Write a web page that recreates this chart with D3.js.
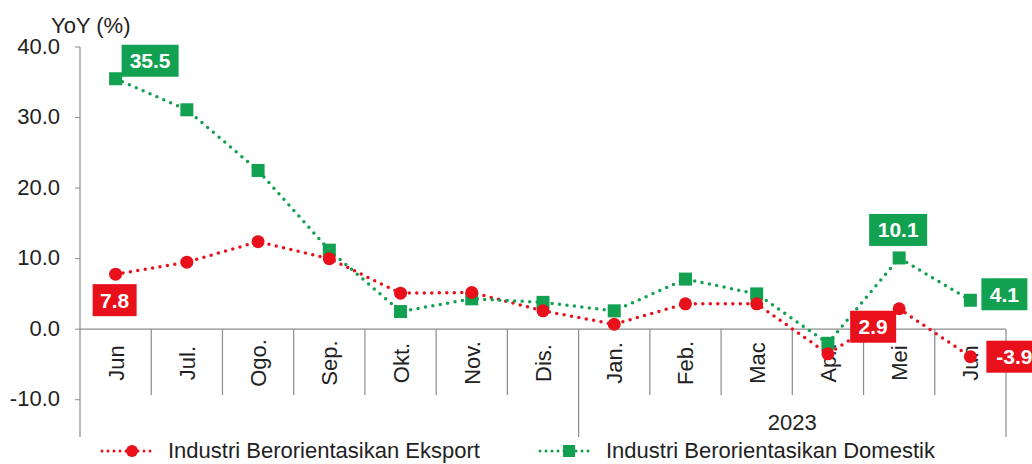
<!DOCTYPE html>
<html>
<head>
<meta charset="utf-8">
<script src="https://cdn.jsdelivr.net/npm/d3@7"></script>
<style>
  body { margin: 0; background: #fff; }
  text { font-family: "Liberation Sans", Arial, sans-serif; }
</style>
</head>
<body>
<div id="chart"></div>
<script>
//////////////////// Data ////////////////////
var months = ["Jun", "Jul.", "Ogo.", "Sep.", "Okt.", "Nov.", "Dis.", "Jan.", "Feb.", "Mac", "Apr.", "Mei", "Jun"];
var eksport = [7.8, 9.5, 12.4, 10.0, 5.1, 5.2, 2.6, 0.7, 3.6, 3.6, -3.5, 2.9, -3.9];
var domestik = [35.5, 31.1, 22.5, 11.2, 2.5, 4.3, 3.8, 2.6, 7.1, 5.0, -2.0, 10.1, 4.1];
var yTicks = [-10, 0, 10, 20, 30, 40];
var yearLabel = "2023";
var seriesNames = ["Industri Berorientasikan Eksport", "Industri Berorientasikan Domestik"];

var red = "#e8101a", green = "#12a150", axisCol = "#8c8c8c";

var width = 1032, height = 464;
var svg = d3.select("#chart").append("svg")
  .attr("width", width).attr("height", height);

//////////////////// Scales ////////////////////
var x = d3.scaleBand().domain(d3.range(months.length)).range([80, 1006]);
var y = d3.scaleLinear().domain([-15, 40]).range([435, 47]);
var cx = function(i) { return x(i) + x.bandwidth() / 2; };

//////////////////// Axes ////////////////////
//vertical axis
svg.append("line")
  .attr("x1", 80).attr("x2", 80).attr("y1", y(40)).attr("y2", y(-15) + 2)
  .attr("stroke", axisCol).attr("stroke-width", 1.2);
svg.selectAll(".ytick").data(yTicks).enter().append("line")
  .attr("x1", 75).attr("x2", 80)
  .attr("y1", function(d) { return y(d); }).attr("y2", function(d) { return y(d); })
  .attr("stroke", axisCol);
svg.selectAll(".ylab").data(yTicks).enter().append("text")
  .attr("x", 60).attr("y", function(d) { return y(d); })
  .attr("dy", "0.3em").attr("text-anchor", "end")
  .attr("font-size", 22).attr("fill", "#222")
  .text(function(d) { return d.toFixed(1); });
svg.append("text").attr("x", 51).attr("y", 33)
  .attr("font-size", 22).attr("fill", "#222").text("YoY (%)");

//category axis along zero
svg.append("line")
  .attr("x1", 80).attr("x2", 1006).attr("y1", y(0)).attr("y2", y(0))
  .attr("stroke", axisCol).attr("stroke-width", 1.2);
svg.selectAll(".div").data(d3.range(1, months.length + 1)).enter().append("line")
  .attr("x1", function(d) { return d < months.length ? x(d) : 1006; })
  .attr("x2", function(d) { return d < months.length ? x(d) : 1006; })
  .attr("y1", y(0))
  .attr("y2", function(d) { return (d === 7 || d === months.length) ? 437 : 395; })
  .attr("stroke", axisCol).attr("stroke-width", 1.2);
svg.selectAll(".mlab").data(months).enter().append("text")
  .attr("transform", function(d, i) { return "translate(" + (cx(i) + 8) + ",363) rotate(-90)"; })
  .attr("text-anchor", "middle")
  .attr("font-size", 22).attr("fill", "#222")
  .text(function(d) { return d; });
svg.append("text")
  .attr("x", (x(7) + 1006) / 2).attr("y", 430)
  .attr("text-anchor", "middle").attr("font-size", 22).attr("fill", "#222")
  .text(yearLabel);

//////////////////// Lines ////////////////////
var line = d3.line().x(function(d, i) { return cx(i); }).y(function(d) { return y(d); });

svg.append("path").datum(eksport).attr("d", line)
  .attr("fill", "none").attr("stroke", red).attr("stroke-width", 3.5)
  .attr("stroke-linecap", "round").attr("stroke-dasharray", "0 7.5");
svg.append("path").datum(domestik).attr("d", line)
  .attr("fill", "none").attr("stroke", green).attr("stroke-width", 3.5)
  .attr("stroke-linecap", "round").attr("stroke-dasharray", "0 7.5");

svg.selectAll(".sq").data(domestik).enter().append("rect")
  .attr("x", function(d, i) { return cx(i) - 6.5; })
  .attr("y", function(d) { return y(d) - 6.5; })
  .attr("width", 13).attr("height", 13).attr("fill", green);
svg.selectAll(".dot").data(eksport).enter().append("circle")
  .attr("cx", function(d, i) { return cx(i); })
  .attr("cy", function(d) { return y(d); })
  .attr("r", 6.5).attr("fill", red);

//////////////////// Value labels ////////////////////
//[series, index, box offset x, offset y, box width] relative to the point
var labels = [
  ["d", 0, 6, -34, 57],
  ["e", 0, -23, 10, 44],
  ["d", 11, -30, -44, 58],
  ["d", 12, 11, -22, 46],
  ["e", 11, -49, 2, 46],
  ["e", 12, 16, -16, 56]
];
labels.forEach(function(l) {
  var v = l[0] === "d" ? domestik[l[1]] : eksport[l[1]];
  var px = cx(l[1]), py = y(v);
  var g = svg.append("g").attr("transform", "translate(" + (px + l[2]) + "," + (py + l[3]) + ")");
  g.append("rect").attr("width", l[4]).attr("height", 32)
    .attr("fill", l[0] === "d" ? green : red);
  g.append("text").attr("x", l[4] / 2).attr("y", 16).attr("dy", "0.36em")
    .attr("text-anchor", "middle").attr("font-size", 21).attr("font-weight", "bold")
    .attr("fill", "#fff").text(v.toFixed(1));
});

//////////////////// Legend ////////////////////
var legend = [
  {name: seriesNames[0], col: red, x0: 102, shape: "circle"},
  {name: seriesNames[1], col: green, x0: 540, shape: "rect"}
];
legend.forEach(function(d) {
  svg.append("line").attr("x1", d.x0).attr("x2", d.x0 + 54).attr("y1", 451).attr("y2", 451)
    .attr("stroke", d.col).attr("stroke-width", 3)
    .attr("stroke-linecap", "round").attr("stroke-dasharray", "0 6");
  if (d.shape === "circle")
    svg.append("circle").attr("cx", d.x0 + 30).attr("cy", 451).attr("r", 6).attr("fill", d.col);
  else
    svg.append("rect").attr("x", d.x0 + 23).attr("y", 445).attr("width", 12).attr("height", 12).attr("fill", d.col);
  svg.append("text").attr("x", d.x0 + 66).attr("y", 451).attr("dy", "0.3em")
    .attr("font-size", 22).attr("fill", "#222").text(d.name);
});
</script>
</body>
</html>
